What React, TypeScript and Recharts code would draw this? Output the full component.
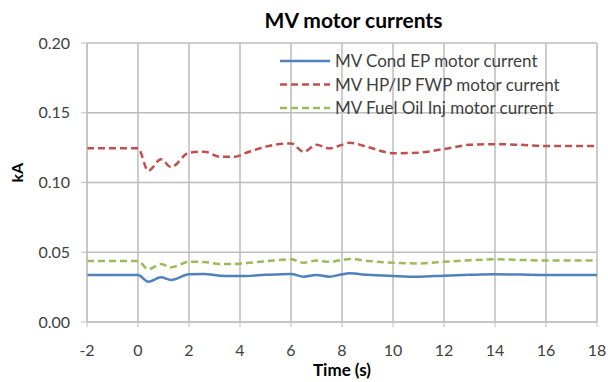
import React from "react";
import {
  LineChart,
  Line,
  XAxis,
  YAxis,
  CartesianGrid,
} from "recharts";

const times = [-2, -1, 0, 0.4, 0.9, 1.3, 2, 2.6, 3.2, 3.8, 4.2, 5, 6, 6.5, 7, 7.5, 8, 8.3, 9, 10, 11, 12, 13, 14, 15, 16, 17, 18];

const condEP = [0.0337, 0.0337, 0.0337, 0.0289, 0.032, 0.0301, 0.0342, 0.0344, 0.0332, 0.033, 0.033, 0.0338, 0.0344, 0.0325, 0.0337, 0.0325, 0.0342, 0.0349, 0.0338, 0.033, 0.0325, 0.0332, 0.0338, 0.0342, 0.034, 0.0337, 0.0337, 0.0337];
const hpipFWP = [0.1245, 0.1245, 0.1245, 0.1085, 0.1166, 0.111, 0.1214, 0.1221, 0.1185, 0.1185, 0.121, 0.1257, 0.128, 0.122, 0.127, 0.1245, 0.127, 0.1285, 0.1255, 0.121, 0.1214, 0.124, 0.127, 0.1275, 0.127, 0.1262, 0.1262, 0.1262];
const fuelOilInj = [0.0437, 0.0437, 0.0437, 0.0378, 0.0416, 0.0392, 0.0432, 0.043, 0.0416, 0.0416, 0.0422, 0.0435, 0.0449, 0.0425, 0.044, 0.0432, 0.0445, 0.0451, 0.0438, 0.0425, 0.042, 0.0432, 0.0442, 0.0449, 0.0445, 0.044, 0.044, 0.044];

const xTicks = [-2, 0, 2, 4, 6, 8, 10, 12, 14, 16, 18];
const yTicks = [0, 0.05, 0.1, 0.15, 0.2];

const seriesNames = [
  "MV Cond EP motor current",
  "MV HP/IP FWP motor current",
  "MV Fuel Oil Inj motor current",
];

const data = times.map((t, i) => ({
  t,
  cond: condEP[i],
  fwp: hpipFWP[i],
  fuel: fuelOilInj[i],
}));

const FONT = "Lato, 'Open Sans', sans-serif";
const GRID = "#bdbdbd";

const W = 608;
const H = 382;
const MARGIN = { top: 43, right: 11, bottom: 26, left: 0 };
const Y_AXIS_W = 87;

// x positions of the vertical grid, from the plot box
const plotLeft = MARGIN.left + Y_AXIS_W;
const plotWidth = W - plotLeft - MARGIN.right;
const xMin = xTicks[0];
const xMax = xTicks[xTicks.length - 1];
const gridX = xTicks.map((t) => plotLeft + ((t - xMin) / (xMax - xMin)) * plotWidth);

const legendItems = [
  { name: seriesNames[0], color: "#4f81bd", dash: undefined },
  { name: seriesNames[1], color: "#c0504d", dash: "7 4" },
  { name: seriesNames[2], color: "#9bbb59", dash: "7 4" },
];

// legend sits inside the plot, top right
function LegendBox() {
  return (
    <svg width={310} height={72} style={{ position: "absolute", left: 280, top: 48 }}>
      {legendItems.map((it, i) => (
        <g key={it.name} transform={`translate(0, ${13 + i * 23.5})`}>
          <line x1={0} x2={50} y1={0} y2={0} stroke={it.color} strokeWidth={2.5} strokeDasharray={it.dash} />
          <text x={55} y={6} fontSize={17} fill="#404040" fontFamily={FONT}>
            {it.name}
          </text>
        </g>
      ))}
    </svg>
  );
}

export default function App() {
  return (
    <div style={{ position: "absolute", left: 0, top: 0, width: W, height: H, background: "#fff", fontFamily: FONT }}>
      <LineChart width={W} height={H} data={data} margin={MARGIN}>
        <CartesianGrid stroke={GRID} strokeWidth={1.5} verticalPoints={gridX} />
        <XAxis
          dataKey="t"
          type="number"
          domain={[xMin, xMax]}
          ticks={xTicks}
          height={34}
          tickSize={5}
          tickMargin={18}
          stroke="#bfbfbf"
          tick={{ fill: "#404040", fontSize: 16, fontFamily: FONT }}
          label={{ value: "Time (s)", position: "insideBottom", offset: -20, fill: "#000", fontSize: 17, fontWeight: "bold", fontFamily: FONT }}
        />
        <YAxis
          type="number"
          domain={[0, 0.2]}
          ticks={yTicks}
          width={Y_AXIS_W}
          tickSize={6}
          tickMargin={11}
          stroke="#bfbfbf"
          tickFormatter={(v: number) => v.toFixed(2)}
          tick={{ fill: "#404040", fontSize: 16, fontFamily: FONT }}
          label={{ value: "kA", angle: -90, position: "insideLeft", offset: 17, fill: "#000", fontSize: 16, fontWeight: "bold", fontFamily: FONT }}
        />
        <Line type="monotone" dataKey="cond" name={seriesNames[0]} stroke="#4f81bd" strokeWidth={2.5} dot={false} isAnimationActive={false} />
        <Line type="monotone" dataKey="fwp" name={seriesNames[1]} stroke="#c0504d" strokeWidth={2.5} strokeDasharray="7 4" dot={false} isAnimationActive={false} />
        <Line type="monotone" dataKey="fuel" name={seriesNames[2]} stroke="#9bbb59" strokeWidth={2.5} strokeDasharray="7 4" dot={false} isAnimationActive={false} />
      </LineChart>
      <LegendBox />
      <div
        style={{
          position: "absolute",
          top: 7,
          left: 0,
          width: W,
          textAlign: "center",
          paddingLeft: 99,
          boxSizing: "border-box",
          fontSize: 21,
          fontWeight: "bold",
          color: "#000",
        }}
      >
        MV motor currents
      </div>
    </div>
  );
}
